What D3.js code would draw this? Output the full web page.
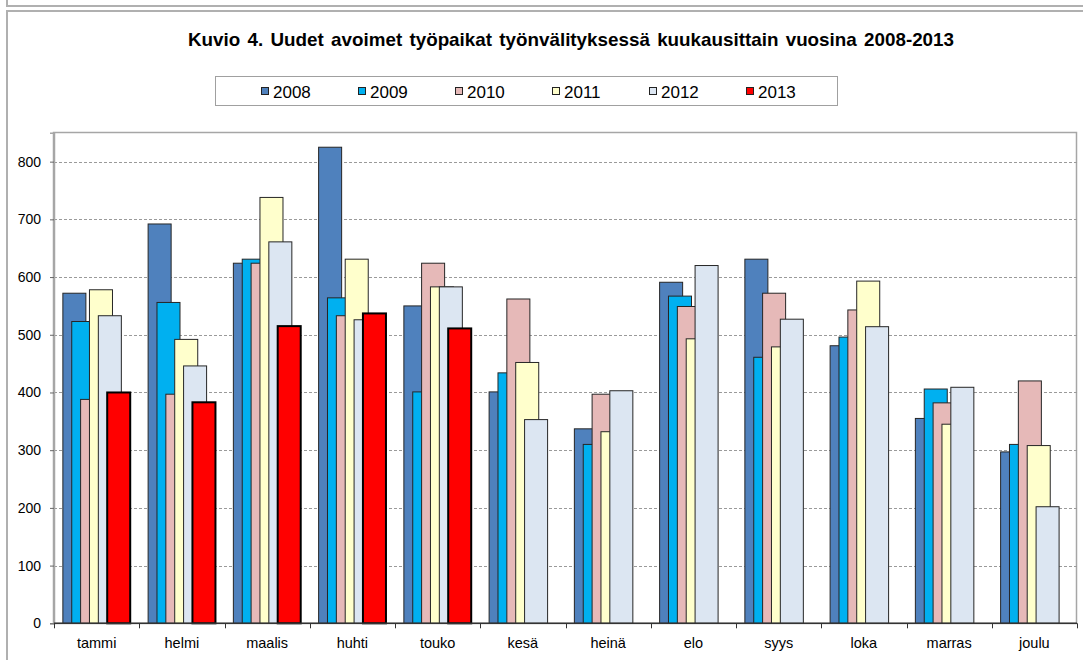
<!DOCTYPE html>
<html>
<head>
<meta charset="utf-8">
<script src="https://cdn.jsdelivr.net/npm/d3@7"></script>
<style>
  body { margin: 0; background: #fff; }
  svg { display: block; font-family: Arial, "Liberation Sans", sans-serif; }
</style>
</head>
<body>
<svg id="chart" width="1083" height="660"></svg>
<script>
// data
var months = ["tammi", "helmi", "maalis", "huhti", "touko", "kesä", "heinä", "elo", "syys", "loka", "marras", "joulu"];
var years = ["2008", "2009", "2010", "2011", "2012", "2013"];
var colors = ["#4F81BD", "#00B0F0", "#E6B9B8", "#FFFFCC", "#DCE6F2", "#FF0000"];
var v2008 = [572, 692, 624, 825, 550, 401, 337, 591, 631, 481, 355, 297];
var v2009 = [523, 556, 631, 564, 401, 434, 310, 567, 461, 496, 406, 310];
var v2010 = [388, 397, 624, 533, 624, 562, 397, 549, 572, 543, 382, 420];
var v2011 = [578, 492, 738, 631, 583, 452, 332, 493, 479, 593, 345, 308];
var v2012 = [533, 446, 661, 526, 583, 353, 403, 620, 527, 514, 409, 202];
var v2013 = [400, 383, 515, 537, 511];
var yTicks = [0, 100, 200, 300, 400, 500, 600, 700, 800];

var series = [v2008, v2009, v2010, v2011, v2012, v2013];

var svg = d3.select("#chart");

// outer frames
svg.append("path")
    .attr("d", "M7,0V6H1083")
    .attr("fill", "none").attr("stroke", "#b0b0b0").attr("stroke-width", 2);
svg.append("path")
    .attr("d", "M7,660V11H1083")
    .attr("fill", "none").attr("stroke", "#b0b0b0").attr("stroke-width", 2);

// title: tall, narrow glyphs squeezed into the original width
svg.append("text")
    .attr("x", 571).attr("y", 46)
    .attr("text-anchor", "middle")
    .attr("font-size", 18.5).attr("font-weight", "bold")
    .attr("word-spacing", 2)
    .attr("textLength", 766).attr("lengthAdjust", "spacingAndGlyphs")
    .text("Kuvio 4. Uudet avoimet työpaikat työnvälityksessä kuukausittain vuosina 2008-2013");

// legend
var legend = svg.append("g");
legend.append("rect")
    .attr("x", 215.5).attr("y", 76.5).attr("width", 622).attr("height", 29)
    .attr("fill", "#fff").attr("stroke", "#a0a0a0");
var lx = d3.scaleLinear().domain([0, 5]).range([261, 746]);
var li = legend.selectAll("g.item").data(years).enter().append("g")
    .attr("class", "item")
    .attr("transform", function(d, i) { return "translate(" + lx(i) + ",0)"; });
li.append("rect")
    .attr("x", 0.5).attr("y", 87.5).attr("width", 7).attr("height", 7)
    .attr("fill", function(d, i) { return colors[i]; })
    .attr("stroke", "#222");
li.append("text")
    .attr("x", 12).attr("y", 97.5)
    .attr("font-size", 17)
    .text(function(d) { return d; });

// plot area
var x = d3.scaleBand().domain(months).range([54, 1077]).padding(0);
var y = d3.scaleLinear().domain([0, 850]).range([623.3, 132.8]);
var band = x.bandwidth();
var barW = band * 0.27;
var inner = d3.scaleLinear().domain([0, 5]).range([band * 0.104, band * 0.104 * 6]);

svg.append("rect")
    .attr("x", 53.5).attr("y", 132.5).attr("width", 1023).attr("height", 491)
    .attr("fill", "#fff").attr("stroke", "#a6a6a6").attr("stroke-width", 1.5);

// gridlines
svg.append("g").selectAll("line").data(yTicks.filter(function(d) { return d > 0; })).enter()
    .append("line")
    .attr("x1", 54).attr("x2", 1077)
    .attr("y1", function(d) { return Math.round(y(d)) + 0.5; })
    .attr("y2", function(d) { return Math.round(y(d)) + 0.5; })
    .attr("stroke", "#9a9a9a").attr("stroke-dasharray", "3,2");

// bars, later years drawn on top
series.forEach(function(vals, si) {
    svg.append("g").selectAll("rect").data(vals).enter()
        .append("rect")
        .attr("x", function(d, i) { return x(months[i]) + inner(si); })
        .attr("y", function(d) { return y(d); })
        .attr("width", barW)
        .attr("height", function(d) { return y(0) - y(d); })
        .attr("fill", colors[si])
        .attr("stroke", si == 5 ? "#000" : "#262626")
        .attr("stroke-width", si == 5 ? 2 : 1);
});

// y axis
var yAxis = d3.axisLeft(y).tickValues(yTicks).tickSize(4).tickPadding(9);
var gy = svg.append("g").attr("transform", "translate(54,0)").call(yAxis);
gy.select(".domain").attr("stroke", "#a6a6a6").attr("stroke-width", 1.5);
gy.selectAll(".tick line").attr("stroke", "#666");
gy.selectAll("text").attr("font-size", 14).attr("fill", "#000")
    .attr("font-family", "Arial, 'Liberation Sans', sans-serif");

// x axis
var gx = svg.append("g").attr("transform", "translate(0," + y(0) + ")");
gx.append("line").attr("x1", 54).attr("x2", 1077).attr("stroke", "#333").attr("stroke-width", 1.5);
gx.selectAll("line.tk").data(months.concat(["end"])).enter().append("line")
    .attr("class", "tk")
    .attr("x1", function(d, i) { return Math.round(x.range()[0] + i * band) + 0.5; })
    .attr("x2", function(d, i) { return Math.round(x.range()[0] + i * band) + 0.5; })
    .attr("y1", 0).attr("y2", 5)
    .attr("stroke", "#333");
gx.selectAll("text").data(months).enter().append("text")
    .attr("x", function(d) { return x(d) + band / 2; })
    .attr("y", 25)
    .attr("text-anchor", "middle")
    .attr("font-size", 14.5)
    .text(function(d) { return d; });
</script>
</body>
</html>
